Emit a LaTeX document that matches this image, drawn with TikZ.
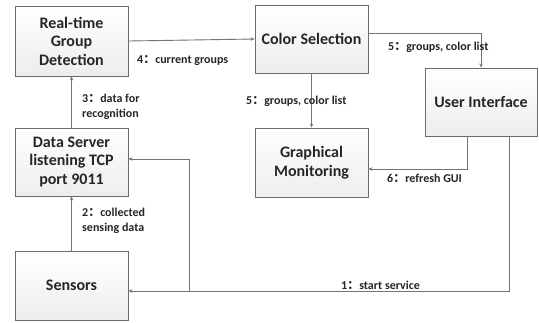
\documentclass[tikz,border=0pt]{standalone}
\usepackage{fontspec}
\setmainfont{Carlito}
\newfontfamily\cjk{Noto Sans CJK SC}
\usetikzlibrary{arrows.meta,shadows}
\newcommand\fwc{{\cjk ：}}
\begin{document}
\begin{tikzpicture}[x=1pt,y=-1pt,
  box/.style={draw=black!58, line width=0.9pt, top color=white, bottom color=black!7,
    minimum width=113pt, minimum height=68pt, align=center, inner sep=1pt,
    font=\bfseries\fontsize{16}{18.5}\selectfont, text=black!85,
    drop shadow={shadow xshift=1pt, shadow yshift=-1pt, fill=black!15, opacity=0.5}},
  arr/.style={draw=black!55, line width=0.9pt, -{Stealth[length=4pt,width=3.5pt]}},
  lab/.style={anchor=west, inner sep=0pt, align=left, text=black!85,
    font=\bfseries\fontsize{12}{15}\selectfont}]
\useasboundingbox (0,0) rectangle (539,322);
\fill[white] (0,0) rectangle (539,322);
\node[box, minimum height=70pt] (rtgd) at (71.5,41) {Real-time\\Group\\Detection};
\node[box] (cs) at (311.5,39) {Color Selection};
\node[box, minimum width=112pt] (ui) at (481,102) {User Interface};
\node[box, minimum height=69pt] (gm) at (311.5,162.5) {Graphical\\Monitoring};
\node[box] (ds) at (71.5,162) {Data Server\\listening TCP\\port 9011};
\node[box, minimum height=69pt] (sen) at (71.5,285.5) {Sensors};
\coordinate (j) at (189,291);
% connectors
\draw[arr] (rtgd.east) -- (cs.west);
\draw[arr] ([yshift=6pt]cs.east) -| (ui.north);
\draw[arr] (cs.south) -- (gm.north);
\draw[arr] ([xshift=-14pt]ui.south) |- ([yshift=-6.5pt]gm.east);
\draw[arr] ([xshift=28pt]ui.south) |- ([yshift=-5.5pt]sen.east);
\draw[arr] (j) |- ([yshift=3pt]ds.east);
\draw[arr] (sen.north) -- (ds.south);
\draw[arr] (ds.north) -- (rtgd.south);
% labels
\node[lab] (l4) at (137,60) {4\fwc current groups};
\node[lab] (l5a) at (388,47) {5\fwc groups, color list};
\node[lab] (l5b) at (246,101) {5\fwc groups, color list};
\node[lab] (l3) at (82,107) {3\fwc data for\\recognition};
\node[lab] (l2) at (82,221) {2\fwc collected\\sensing data};
\node[lab] (l6) at (387,178) {6\fwc refresh GUI};
\node[lab] (l1) at (341,285) {1\fwc start service};
\end{tikzpicture}
\end{document}
